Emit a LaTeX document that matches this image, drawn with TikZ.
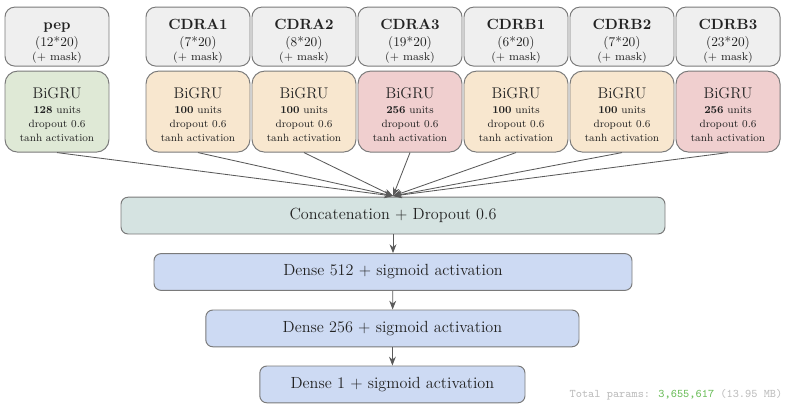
\documentclass[tikz,border=0pt]{standalone}
\usepackage{xcolor}
\usetikzlibrary{arrows.meta,positioning}
\definecolor{edge}{HTML}{7A7A7A}
\definecolor{arrowc}{HTML}{5A5A5A}
\definecolor{inputfill}{HTML}{EFEFEF}
\definecolor{pepfill}{HTML}{DFE9D6}
\definecolor{midfill}{HTML}{F8E7CF}
\definecolor{bigfill}{HTML}{F0CFCF}
\definecolor{catfill}{HTML}{D5E3E1}
\definecolor{densefill}{HTML}{CDDAF3}
\definecolor{ink}{HTML}{222222}
\definecolor{paramgray}{HTML}{BDBDBD}
\definecolor{paramgreen}{HTML}{6DBE5C}

% text helpers
\newcommand{\inname}[2]{{\fontsize{10.5}{12}\selectfont\bfseries\rule{0pt}{14pt}#1}\\[0pt]
  {\fontsize{9.5}{11}\selectfont (#2)}\\[-2pt]
  {\fontsize{8}{9}\selectfont (+ mask)}}
\newcommand{\grutext}[1]{{\fontsize{11}{13}\selectfont\rule{0pt}{12pt}BiGRU}\\[-1pt]
  {\fontsize{7.5}{9}\selectfont\textbf{#1} units}\\[-2pt]
  {\fontsize{7.5}{9}\selectfont dropout 0.6}\\[-2pt]
  {\fontsize{7.5}{9}\selectfont tanh activation}}

\begin{document}
\begin{tikzpicture}[
    >={Stealth[length=2.2mm,width=1.7mm]},
    % --- input boxes ---------------------------------------------------
    inbox/.style={draw=edge,fill=inputfill,rounded corners=7pt,line width=0.7pt,
                  minimum width=2.6cm,minimum height=1.475cm,inner sep=0pt,
                  align=center,text=ink},
    % --- recurrent boxes -----------------------------------------------
    gru/.style={draw=edge,rounded corners=9pt,line width=0.7pt,
                minimum width=2.6cm,minimum height=2.025cm,inner sep=0pt,
                align=center,text=ink},
    grusmall/.style={gru,fill=pepfill},
    grumid/.style={gru,fill=midfill},
    grubig/.style={gru,fill=bigfill},
    % --- stacked layers ------------------------------------------------
    layer/.style={draw=edge,rounded corners=5pt,line width=0.7pt,
                  minimum height=0.92cm,inner sep=0pt,text=ink,font=\fontsize{11.5}{13}\selectfont},
    catbox/.style={layer,fill=catfill},
    densebox/.style={layer,fill=densefill},
    % --- connectors ----------------------------------------------------
    feed/.style={draw=arrowc,line width=0.6pt,->},
  ]

\useasboundingbox (0,0) rectangle (20,-10.45);

% =====================================================================
%  Inputs
% =====================================================================
\node[inbox] (pep)   at (1.425,-0.915) {\inname{pep}{12*20}};
\node[inbox] (cdra1) at (4.95,-0.915)  {\inname{CDRA1}{7*20}};
\node[inbox] (cdra2) at (7.6,-0.915)   {\inname{CDRA2}{8*20}};
\node[inbox] (cdra3) at (10.25,-0.915) {\inname{CDRA3}{19*20}};
\node[inbox] (cdrb1) at (12.9,-0.915)  {\inname{CDRB1}{6*20}};
\node[inbox] (cdrb2) at (15.55,-0.915) {\inname{CDRB2}{7*20}};
\node[inbox] (cdrb3) at (18.2,-0.915)  {\inname{CDRB3}{23*20}};

% =====================================================================
%  BiGRU encoders
% =====================================================================
\node[grusmall] (gpep)   at (1.425,-2.79) {\grutext{128}};
\node[grumid]   (gcdra1) at (4.95,-2.79)  {\grutext{100}};
\node[grumid]   (gcdra2) at (7.6,-2.79)   {\grutext{100}};
\node[grubig]   (gcdra3) at (10.25,-2.79) {\grutext{256}};
\node[grumid]   (gcdrb1) at (12.9,-2.79)  {\grutext{100}};
\node[grumid]   (gcdrb2) at (15.55,-2.79) {\grutext{100}};
\node[grubig]   (gcdrb3) at (18.2,-2.79)  {\grutext{256}};

% =====================================================================
%  Merge and dense head
% =====================================================================
\node[catbox,minimum width=13.6cm]    (concat) at (9.825,-5.39) {Concatenation + Dropout 0.6};
\node[densebox,minimum width=11.95cm] (d512)   at (9.825,-6.8)  {Dense 512 + sigmoid activation};
\node[densebox,minimum width=9.33cm]  (d256)   at (9.81,-8.21)  {Dense 256 + sigmoid activation};
\node[densebox,minimum width=6.63cm]  (d1)     at (9.81,-9.61)  {Dense 1 + sigmoid activation};

\coordinate (merge) at (9.825,-4.9);

% ---- encoders -> concatenation --------------------------------------
\draw[feed] (gpep.south)   -- (merge);
\draw[feed] (gcdra1.south) -- (merge);
\draw[feed] (gcdra2.south) -- (merge);
\draw[feed] (gcdra3.south) -- (merge);
\draw[feed] (gcdrb1.south) -- (merge);
\draw[feed] (gcdrb2.south) -- (merge);
\draw[feed] (gcdrb3.south) -- (merge);

% ---- head ------------------------------------------------------------
\draw[feed] (concat) -- (d512);
\draw[feed] (d512) -- (d256);
\draw[feed] (d256) -- (d1);

% ---- parameter count -------------------------------------------------
\node[font=\fontsize{8.3}{10}\ttfamily,text=paramgray,inner sep=0pt] (params) at (16.9,-9.86)
     {Total params: \textcolor{paramgreen}{3,655,617} (13.95 MB)};

\end{tikzpicture}
\end{document}
